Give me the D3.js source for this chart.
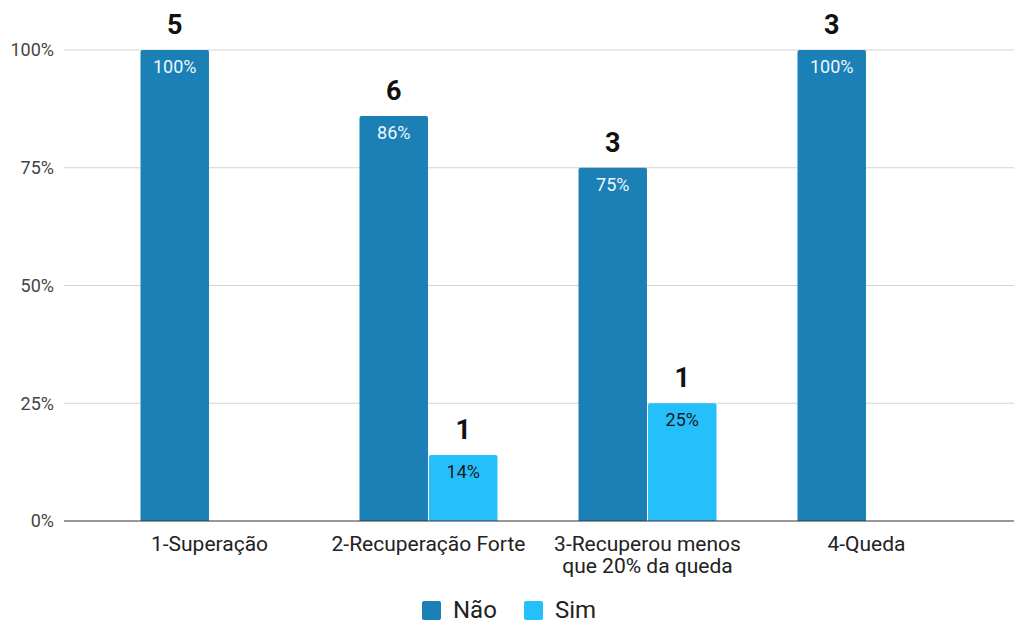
<!DOCTYPE html>
<html>
<head>
<meta charset="utf-8">
<script src="https://cdn.jsdelivr.net/npm/d3@7"></script>
<style>
  body { margin: 0; background: #fff; }
  text { font-family: Roboto, "Liberation Sans", sans-serif; }
</style>
</head>
<body>
<div id="chart"></div>
<script>
const categories = ["1-Superação", "2-Recuperação Forte", "3-Recuperou menos\nque 20% da queda", "4-Queda"];
const series = ["Não", "Sim"];
const naoPct = [100, 86, 75, 100];
const simPct = [0, 14, 25, 0];
const naoCount = [5, 6, 3, 3];
const simCount = [0, 1, 1, 0];
const yTicks = [0, 25, 50, 75, 100];

const colors = { "Não": "#1b80b6", "Sim": "#25c0fb" };

const width = 1024, height = 631;
const plotLeft = 64, plotRight = 1014, plotTop = 50, plotBottom = 521;

const svg = d3.select("#chart")
    .append("svg")
    .attr("width", width)
    .attr("height", height);

const x0 = d3.scaleBand()
    .domain(categories)
    .range([100, 976])
    .padding(0);

const x1 = d3.scaleBand()
    .domain(series)
    .range([x0.bandwidth() / 2 - 69, x0.bandwidth() / 2 + 69])
    .paddingInner(0.015);

const y = d3.scaleLinear()
    .domain([0, 100])
    .range([plotBottom, plotTop]);

// gridlines
svg.append("g")
    .selectAll("line")
    .data(yTicks.filter(d => d > 0))
    .enter()
    .append("line")
    .attr("x1", plotLeft)
    .attr("x2", plotRight)
    .attr("y1", d => y(d))
    .attr("y2", d => y(d))
    .attr("stroke", "#d3d3d3")
    .attr("stroke-width", 1);

// y tick labels
svg.append("g")
    .selectAll("text")
    .data(yTicks)
    .enter()
    .append("text")
    .attr("x", 54)
    .attr("y", d => y(d))
    .attr("dy", "0.35em")
    .attr("text-anchor", "end")
    .attr("font-size", 18)
    .attr("fill", "#444")
    .text(d => d + "%");

const rows = categories.map((c, i) => ({
    cat: c,
    bars: [
        { s: "Não", pct: naoPct[i], count: naoCount[i] },
        { s: "Sim", pct: simPct[i], count: simCount[i] }
    ].filter(b => b.pct > 0)
}));

const groups = svg.append("g")
    .selectAll("g")
    .data(rows)
    .enter()
    .append("g")
    .attr("transform", d => `translate(${x0(d.cat)},0)`);

groups.selectAll("path")
    .data(d => d.bars)
    .enter()
    .append("path")
    .attr("d", d => {
        const bx = x1(d.s), bw = x1.bandwidth(), by = y(d.pct), r = 2;
        return `M${bx},${plotBottom}V${by + r}Q${bx},${by} ${bx + r},${by}H${bx + bw - r}Q${bx + bw},${by} ${bx + bw},${by + r}V${plotBottom}Z`;
    })
    .attr("fill", d => colors[d.s]);

// percentage inside bars
groups.selectAll("text.pct")
    .data(d => d.bars)
    .enter()
    .append("text")
    .attr("class", "pct")
    .attr("x", d => x1(d.s) + x1.bandwidth() / 2)
    .attr("y", d => y(d.pct) + 23)
    .attr("text-anchor", "middle")
    .attr("font-size", 18)
    .attr("fill", d => d.s === "Não" ? "#eef7fc" : "#1a1a1a")
    .text(d => d.pct + "%");

// counts above bars
groups.selectAll("text.count")
    .data(d => d.bars)
    .enter()
    .append("text")
    .attr("class", "count")
    .attr("x", d => x1(d.s) + x1.bandwidth() / 2)
    .attr("y", d => y(d.pct) - 16)
    .attr("text-anchor", "middle")
    .attr("font-size", 27)
    .attr("font-weight", "bold")
    .attr("fill", "#111")
    .text(d => d.count);

// baseline
svg.append("line")
    .attr("x1", plotLeft)
    .attr("x2", plotRight)
    .attr("y1", plotBottom)
    .attr("y2", plotBottom)
    .attr("stroke", "#333")
    .attr("stroke-width", 1.2);

// category labels
svg.append("g")
    .selectAll("text")
    .data(categories)
    .enter()
    .append("text")
    .attr("x", d => x0(d) + x0.bandwidth() / 2)
    .attr("y", 551)
    .attr("text-anchor", "middle")
    .attr("font-size", 21)
    .attr("fill", "#222")
    .each(function (d) {
        const parts = d.split("\n");
        d3.select(this).selectAll("tspan")
            .data(parts)
            .enter()
            .append("tspan")
            .attr("x", x0(d) + x0.bandwidth() / 2)
            .attr("dy", (p, i) => i === 0 ? 0 : 22)
            .text(p => p);
    });

// legend
const legendX = [422, 524];
const legend = svg.append("g")
    .selectAll("g")
    .data(series)
    .enter()
    .append("g")
    .attr("transform", (d, i) => `translate(${legendX[i]},601)`);

legend.append("rect")
    .attr("width", 19)
    .attr("height", 19)
    .attr("rx", 2)
    .attr("fill", d => colors[d]);

legend.append("text")
    .attr("x", 31)
    .attr("y", 16.5)
    .attr("font-size", 24)
    .attr("fill", "#222")
    .text(d => d);
</script>
</body>
</html>
